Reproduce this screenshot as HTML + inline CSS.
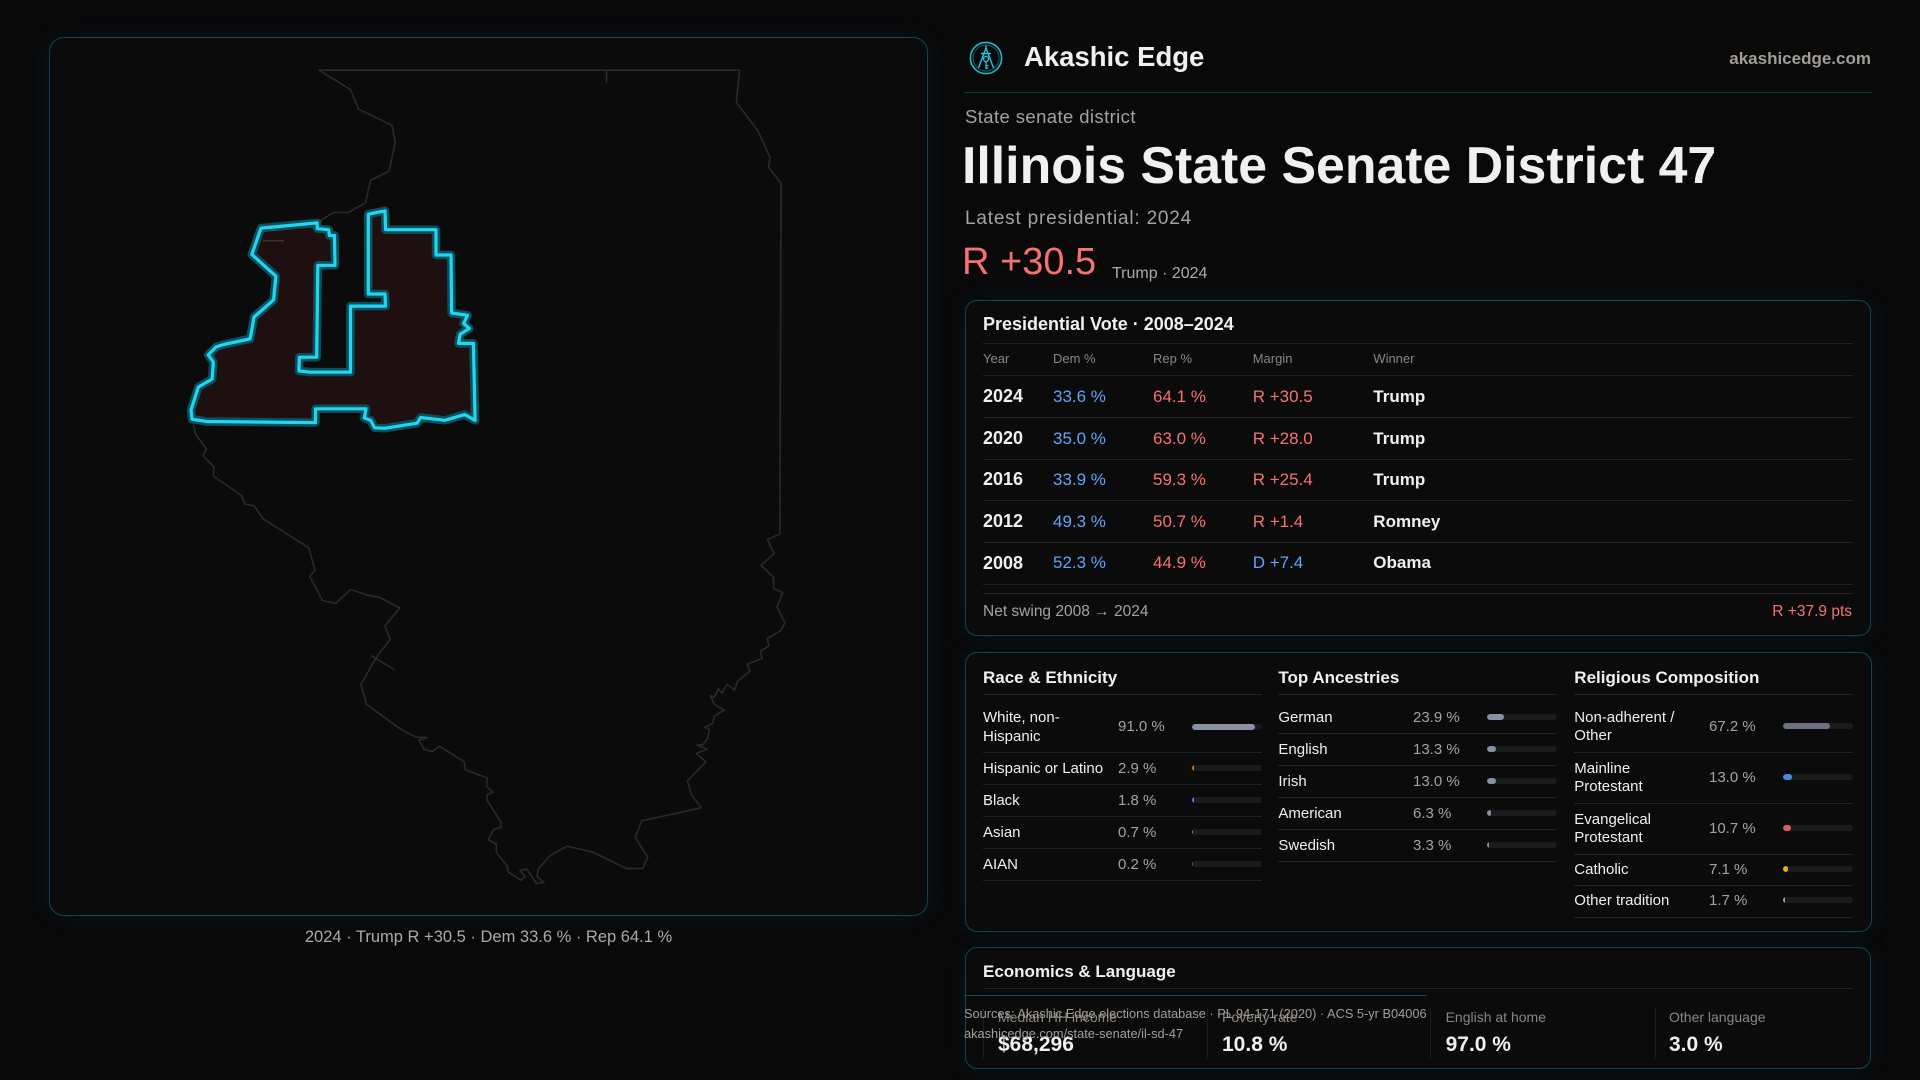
<!DOCTYPE html>
<html>
<head>
<meta charset="utf-8">
<style>
  html,body{margin:0;padding:0;}
  body{width:1920px;height:1080px;background:#09090a;position:relative;overflow:hidden;font-family:"Liberation Sans",sans-serif;}
  .t{position:absolute;white-space:nowrap;line-height:1;}
  .card{position:absolute;box-sizing:border-box;border:1px solid #0e4752;background:#0b0b0c;box-shadow:0 0 22px rgba(14,90,105,0.16);}
  .hl{position:absolute;height:1px;background:#222325;}
  .vl{position:absolute;width:1px;background:#1d1d1f;}
  .w{color:#f2f0ee;}
  .g{color:#a8a29e;}
  .b{font-weight:bold;}
  .blue{color:#60a5fa;}
  .red{color:#f87171;}
  .trk{position:absolute;height:6px;width:70px;border-radius:3px;background:#1b1b1d;overflow:hidden;}
  .trk i{position:absolute;left:0;top:0;height:6px;border-radius:3px;display:block;}
</style>
</head>
<body>

<!-- MAP CARD -->
<div class="card" style="left:49px;top:37px;width:879px;height:879px;border-radius:15px;"></div>
<svg style="position:absolute;left:0;top:0;" width="960" height="1080" viewBox="0 0 960 1080">
  <path d="M319,70.2 L739.7,70.2 L736.3,102.3 L758,131 L770.1,157.4 L768.4,166.6 L781,183.3 L779.9,534 L767.3,539.7 L774.1,553.5 L760.9,565.5 L773.5,577 L773.5,588.5 L782.7,592.5 L777,606.9 L785,623 L780.4,631 L767.3,638.4 L769,645.9 L760.4,651 L762.1,658.5 L747.2,664.3 L750,671.1 L737.4,681.5 L734.5,690 L727,684.4 L721.9,693 L718.4,689 L714.4,697 L710.4,695.8 L714.4,704.4 L724.2,710.2 L714.4,716 L712.7,723.4 L704.7,727.4 L709.3,729.1 L708.1,737.7 L703,744.6 L697.2,745.2 L707.6,749.2 L696.1,753.2 L705.9,761.8 L687.5,780.8 L691.5,794.6 L701.3,807.8 L641.6,820.9 L635.2,837.6 L647.8,857.1 L642.7,868.6 L626.6,868.6 L592.7,852 L566.9,846.2 L550.3,855.4 L538.2,869.1 L537.1,876.6 L544,882.4 L536.5,883.5 L526.7,869.1 L519.9,870.3 L525,876.6 L521,880.1 L508.4,872 L506.7,865.2 L496.3,852.5 L496.3,843.9 L488.3,839.9 L493.4,829.5 L500.9,827.3 L500.9,822.1 L487.1,800.3 L487.1,794.6 L492.9,792.3 L486.6,786.5 L487.1,777.9 L465.3,769.9 L464.2,761.8 L439.5,746.3 L432,751.5 L424,749.2 L418.8,740 L426.9,737.7 L415.4,737.1 L400.5,729.1 L366.6,704.4 L360.9,684.4 L377.5,655.6 L390.1,639.6 L385,625.8 L399.9,608 L379.2,597.1 L370.6,596 L350.5,589.6 L335.6,603.4 L322.4,600.5 L309.8,576.4 L315,570.1 L308.6,547.7 L263.3,519 L254.1,505.8 L244.9,504.1 L241.5,495.5 L213.3,476 L213.9,466.8 L203,455.9 L206.5,449 L195.5,434.1 L193.8,426.1 L192,419 L191,410 L198.4,387 L212.2,379 L213.3,361.8 L208.2,354.9 L216.2,346.8 L223.7,344.5 L250.1,338.8 L254.1,317 L273.6,299.8 L275.9,276.2 L251.8,254.4 L261,228.1 L317.2,222.9 L333.3,212.5 L348.2,212.5 L365.4,202.8 L370.6,180.4 L389,171.2 L395.3,142.5 L391.9,125.3 L358.6,109.2 L350.5,89.7 Z" fill="none" stroke="#2a2a2c" stroke-width="1.6" stroke-linejoin="round"/>
  <path d="M606.5,70.2 L606.5,83.4 M371.2,655.6 L394.7,670" stroke="#2a2a2c" stroke-width="1.6" fill="none"/>
  <path d="M261,228.1 L317.2,222.9 L317.2,228.6 L328.7,229.7 L329.3,235.5 L334.5,235.5 L335,265.3 L317.8,265.3 L316.7,357.2 L299.4,357.2 L298.9,370.9 L309.8,372.1 L350.5,372.1 L350.5,306.1 L385.5,306.1 L385,294 L368.3,294 L368.3,214.2 L385,210.8 L385.5,229.7 L436,229.7 L436,255 L451,255 L451.6,313 L467.6,315.3 L463.6,323.4 L469.4,328.5 L460.2,334.2 L458.5,343.4 L473.4,343.4 L475.1,420.3 L464.8,414.6 L444.7,420.3 L420.6,417.5 L417.1,423.2 L384.4,428.3 L374.6,427.8 L370.6,420.3 L364.3,418 L366,408.8 L315.5,408.8 L315.5,422.6 L206.5,421.5 L192.1,419.2 L191,410 L198.4,387 L212.2,379 L213.3,361.8 L208.2,354.9 L216.2,346.8 L223.7,344.5 L250.1,338.8 L254.1,317 L273.6,299.8 L275.9,276.2 L251.8,254.4 Z" fill="#1e0f11" stroke="#0c4f5a" stroke-width="8.5" stroke-linejoin="round"/>
  <path d="M262.7,240.7 L284,240.7" stroke="#3a3434" stroke-width="1.4"/>
  <path d="M261,228.1 L317.2,222.9 L317.2,228.6 L328.7,229.7 L329.3,235.5 L334.5,235.5 L335,265.3 L317.8,265.3 L316.7,357.2 L299.4,357.2 L298.9,370.9 L309.8,372.1 L350.5,372.1 L350.5,306.1 L385.5,306.1 L385,294 L368.3,294 L368.3,214.2 L385,210.8 L385.5,229.7 L436,229.7 L436,255 L451,255 L451.6,313 L467.6,315.3 L463.6,323.4 L469.4,328.5 L460.2,334.2 L458.5,343.4 L473.4,343.4 L475.1,420.3 L464.8,414.6 L444.7,420.3 L420.6,417.5 L417.1,423.2 L384.4,428.3 L374.6,427.8 L370.6,420.3 L364.3,418 L366,408.8 L315.5,408.8 L315.5,422.6 L206.5,421.5 L192.1,419.2 L191,410 L198.4,387 L212.2,379 L213.3,361.8 L208.2,354.9 L216.2,346.8 L223.7,344.5 L250.1,338.8 L254.1,317 L273.6,299.8 L275.9,276.2 L251.8,254.4 Z" fill="none" stroke="#20d6f0" stroke-width="3.2" stroke-linejoin="round"/>
</svg>
<div class="t" style="left:49px;width:879px;text-align:center;top:928.8px;font-size:16.5px;color:#b0a8a2;">2024 · Trump R +30.5 · Dem 33.6 % · Rep 64.1 %</div>

<!-- HEADER -->
<svg style="position:absolute;left:969px;top:41px;" width="34" height="34" viewBox="0 0 34 34">
  <circle cx="17" cy="17" r="15.6" fill="none" stroke="#1fb8cc" stroke-width="1.6"/>
  <circle cx="17" cy="17" r="13" fill="none" stroke="#0f5f6c" stroke-width="1"/>
  <path d="M17 7 L9.5 27 M17 7 L24.5 27 M12 12.5 L22 12.5 M17 9 L17 4.5" stroke="#22c7de" stroke-width="1.4" fill="none"/>
  <circle cx="17" cy="18" r="2.5" fill="none" stroke="#22c7de" stroke-width="1.3"/>
  <path d="M17 20.5 L17 28 M17 24.5 L19.5 24.5 M17 27 L19.5 27" stroke="#22c7de" stroke-width="1.3" fill="none"/>
</svg>
<div class="t w b" style="left:1024px;top:43px;font-size:27.5px;">Akashic Edge</div>
<div class="t b" style="right:49px;top:49.8px;font-size:17px;color:#a39d98;">akashicedge.com</div>
<div style="position:absolute;left:964px;top:92px;width:908px;height:1px;background:#0f3d45;"></div>

<div class="t g" style="left:965px;top:108.1px;font-size:18.5px;letter-spacing:0.4px;">State senate district</div>
<div class="t w b" style="left:962px;top:140px;font-size:51.8px;">Illinois State Senate District 47</div>
<div class="t g" style="left:965px;top:208.9px;font-size:19px;letter-spacing:0.8px;">Latest presidential: 2024</div>
<div class="t red" style="left:962px;top:243px;font-size:38px;">R +30.5</div>
<div class="t" style="left:1112px;top:266.1px;font-size:16px;color:#b0a9a3;">Trump · 2024</div>

<!-- PANEL 1 -->
<div class="card" style="left:965px;top:299.5px;width:906px;height:336.5px;border-radius:12px;"></div>
<div class="t w b" style="left:983px;top:314.9px;font-size:18px;">Presidential Vote · 2008–2024</div>
<div class="hl" style="left:983px;top:343px;width:870px;"></div>
<div class="t" style="left:983px;top:351.8px;font-size:13px;color:#8c8681;">Year</div>
<div class="t" style="left:1053px;top:351.8px;font-size:13px;color:#8c8681;">Dem %</div>
<div class="t" style="left:1153px;top:351.8px;font-size:13px;color:#8c8681;">Rep %</div>
<div class="t" style="left:1252.7px;top:351.8px;font-size:13px;color:#8c8681;">Margin</div>
<div class="t" style="left:1373.3px;top:351.8px;font-size:13px;color:#8c8681;">Winner</div>
<div class="hl" style="left:983px;top:375px;width:870px;"></div>

<div class="t w b" style="left:983px;top:387.1px;font-size:18px;">2024</div>
<div class="t blue" style="left:1053px;top:387.5px;font-size:17px;">33.6 %</div>
<div class="t red" style="left:1153px;top:387.5px;font-size:17px;">64.1 %</div>
<div class="t red" style="left:1252.7px;top:387.5px;font-size:17px;">R +30.5</div>
<div class="t w b" style="left:1373.3px;top:387.5px;font-size:17px;">Trump</div>
<div class="hl" style="left:983px;top:417px;width:870px;"></div>

<div class="t w b" style="left:983px;top:429.1px;font-size:18px;">2020</div>
<div class="t blue" style="left:1053px;top:429.5px;font-size:17px;">35.0 %</div>
<div class="t red" style="left:1153px;top:429.5px;font-size:17px;">63.0 %</div>
<div class="t red" style="left:1252.7px;top:429.5px;font-size:17px;">R +28.0</div>
<div class="t w b" style="left:1373.3px;top:429.5px;font-size:17px;">Trump</div>
<div class="hl" style="left:983px;top:459px;width:870px;"></div>

<div class="t w b" style="left:983px;top:470.1px;font-size:18px;">2016</div>
<div class="t blue" style="left:1053px;top:470.5px;font-size:17px;">33.9 %</div>
<div class="t red" style="left:1153px;top:470.5px;font-size:17px;">59.3 %</div>
<div class="t red" style="left:1252.7px;top:470.5px;font-size:17px;">R +25.4</div>
<div class="t w b" style="left:1373.3px;top:470.5px;font-size:17px;">Trump</div>
<div class="hl" style="left:983px;top:500px;width:870px;"></div>

<div class="t w b" style="left:983px;top:512.1px;font-size:18px;">2012</div>
<div class="t blue" style="left:1053px;top:512.5px;font-size:17px;">49.3 %</div>
<div class="t red" style="left:1153px;top:512.5px;font-size:17px;">50.7 %</div>
<div class="t red" style="left:1252.7px;top:512.5px;font-size:17px;">R +1.4</div>
<div class="t w b" style="left:1373.3px;top:512.5px;font-size:17px;">Romney</div>
<div class="hl" style="left:983px;top:542px;width:870px;"></div>

<div class="t w b" style="left:983px;top:553.7px;font-size:18px;">2008</div>
<div class="t blue" style="left:1053px;top:554.1px;font-size:17px;">52.3 %</div>
<div class="t red" style="left:1153px;top:554.1px;font-size:17px;">44.9 %</div>
<div class="t blue" style="left:1252.7px;top:554.1px;font-size:17px;">D +7.4</div>
<div class="t w b" style="left:1373.3px;top:554.1px;font-size:17px;">Obama</div>
<div class="hl" style="left:983px;top:584px;width:870px;"></div>
<div class="hl" style="left:983px;top:593px;width:870px;"></div>

<div class="t g" style="left:983px;top:604.1px;font-size:15.5px;">Net swing 2008 → 2024</div>
<div class="t red" style="right:68px;top:604.1px;font-size:15.5px;">R +37.9 pts</div>

<!-- PANEL 2 -->
<div class="card" style="left:965px;top:651.7px;width:906.7px;height:280.6px;border-radius:12px;"></div>
<div class="t w b" style="left:983px;top:668.5px;font-size:17px;">Race &amp; Ethnicity</div>
<div class="t w b" style="left:1278.4px;top:668.5px;font-size:17px;">Top Ancestries</div>
<div class="t w b" style="left:1574.3px;top:668.5px;font-size:17px;">Religious Composition</div>
<div class="hl" style="left:983px;top:694px;width:279px;"></div>
<div class="hl" style="left:1278.4px;top:694px;width:279px;"></div>
<div class="hl" style="left:1574.3px;top:694px;width:278.4px;"></div>

<!-- race -->
<div class="t w" style="left:983px;top:709.5px;font-size:15px;">White, non-</div>
<div class="t w" style="left:983px;top:728.5px;font-size:15px;">Hispanic</div>
<div class="t g" style="left:1118px;top:718.8px;font-size:15px;">91.0 %</div>
<div class="trk" style="left:1191.8px;top:723.7px;"><i style="width:63.7px;background:#8791a1;"></i></div>
<div class="hl" style="left:983px;top:752px;width:279px;"></div>

<div class="t w" style="left:983px;top:760.5px;font-size:15px;">Hispanic or Latino</div>
<div class="t g" style="left:1118px;top:760.5px;font-size:15px;">2.9 %</div>
<div class="trk" style="left:1191.8px;top:764.7px;"><i style="width:2.2px;border-radius:1px;background:#d97706;"></i></div>
<div class="hl" style="left:983px;top:784px;width:279px;"></div>

<div class="t w" style="left:983px;top:792.5px;font-size:15px;">Black</div>
<div class="t g" style="left:1118px;top:792.5px;font-size:15px;">1.8 %</div>
<div class="trk" style="left:1191.8px;top:796.7px;"><i style="width:2px;border-radius:1px;background:#8b5cf6;"></i></div>
<div class="hl" style="left:983px;top:816px;width:279px;"></div>

<div class="t w" style="left:983px;top:824.5px;font-size:15px;">Asian</div>
<div class="t g" style="left:1118px;top:824.5px;font-size:15px;">0.7 %</div>
<div class="trk" style="left:1191.8px;top:828.7px;"><i style="width:1.6px;border-radius:1px;background:#10b981;"></i></div>
<div class="hl" style="left:983px;top:848px;width:279px;"></div>

<div class="t w" style="left:983px;top:856.5px;font-size:15px;">AIAN</div>
<div class="t g" style="left:1118px;top:856.5px;font-size:15px;">0.2 %</div>
<div class="trk" style="left:1191.8px;top:860.7px;"><i style="width:1.4px;border-radius:1px;background:#c2410c;"></i></div>
<div class="hl" style="left:983px;top:880px;width:279px;"></div>

<!-- ancestries -->
<div class="t w" style="left:1278.4px;top:709.5px;font-size:15px;">German</div>
<div class="t g" style="left:1413px;top:709.5px;font-size:15px;">23.9 %</div>
<div class="trk" style="left:1487px;top:713.7px;"><i style="width:16.7px;background:#8791a1;"></i></div>
<div class="hl" style="left:1278.4px;top:733px;width:279px;"></div>

<div class="t w" style="left:1278.4px;top:741.5px;font-size:15px;">English</div>
<div class="t g" style="left:1413px;top:741.5px;font-size:15px;">13.3 %</div>
<div class="trk" style="left:1487px;top:745.7px;"><i style="width:9.3px;background:#8791a1;"></i></div>
<div class="hl" style="left:1278.4px;top:765px;width:279px;"></div>

<div class="t w" style="left:1278.4px;top:773.5px;font-size:15px;">Irish</div>
<div class="t g" style="left:1413px;top:773.5px;font-size:15px;">13.0 %</div>
<div class="trk" style="left:1487px;top:777.7px;"><i style="width:9.1px;background:#8791a1;"></i></div>
<div class="hl" style="left:1278.4px;top:797px;width:279px;"></div>

<div class="t w" style="left:1278.4px;top:805.5px;font-size:15px;">American</div>
<div class="t g" style="left:1413px;top:805.5px;font-size:15px;">6.3 %</div>
<div class="trk" style="left:1487px;top:809.7px;"><i style="width:4.4px;background:#8791a1;"></i></div>
<div class="hl" style="left:1278.4px;top:829px;width:279px;"></div>

<div class="t w" style="left:1278.4px;top:837.5px;font-size:15px;">Swedish</div>
<div class="t g" style="left:1413px;top:837.5px;font-size:15px;">3.3 %</div>
<div class="trk" style="left:1487px;top:841.7px;"><i style="width:2.3px;border-radius:1px;background:#8791a1;"></i></div>
<div class="hl" style="left:1278.4px;top:861px;width:279px;"></div>

<!-- religion -->
<div class="t w" style="left:1574.3px;top:709.5px;font-size:15px;">Non-adherent /</div>
<div class="t w" style="left:1574.3px;top:727.8px;font-size:15px;">Other</div>
<div class="t g" style="left:1709px;top:718.8px;font-size:15px;">67.2 %</div>
<div class="trk" style="left:1783.3px;top:723px;"><i style="width:47px;background:#6b7280;"></i></div>
<div class="hl" style="left:1574.3px;top:752px;width:278.4px;"></div>

<div class="t w" style="left:1574.3px;top:760.5px;font-size:15px;">Mainline</div>
<div class="t w" style="left:1574.3px;top:779.1px;font-size:15px;">Protestant</div>
<div class="t g" style="left:1709px;top:770.1px;font-size:15px;">13.0 %</div>
<div class="trk" style="left:1783.3px;top:774.3px;"><i style="width:9.1px;background:#4a8be0;"></i></div>
<div class="hl" style="left:1574.3px;top:803px;width:278.4px;"></div>

<div class="t w" style="left:1574.3px;top:811.5px;font-size:15px;">Evangelical</div>
<div class="t w" style="left:1574.3px;top:830.1px;font-size:15px;">Protestant</div>
<div class="t g" style="left:1709px;top:821.1px;font-size:15px;">10.7 %</div>
<div class="trk" style="left:1783.3px;top:825.3px;"><i style="width:7.5px;background:#e05c5c;"></i></div>
<div class="hl" style="left:1574.3px;top:854px;width:278.4px;"></div>

<div class="t w" style="left:1574.3px;top:861.5px;font-size:15px;">Catholic</div>
<div class="t g" style="left:1709px;top:861.5px;font-size:15px;">7.1 %</div>
<div class="trk" style="left:1783.3px;top:865.7px;"><i style="width:5px;background:#eab308;"></i></div>
<div class="hl" style="left:1574.3px;top:885px;width:278.4px;"></div>

<div class="t w" style="left:1574.3px;top:893.1px;font-size:15px;">Other tradition</div>
<div class="t g" style="left:1709px;top:893.1px;font-size:15px;">1.7 %</div>
<div class="trk" style="left:1783.3px;top:897.3px;"><i style="width:1.6px;border-radius:1px;background:#9ca3af;"></i></div>
<div class="hl" style="left:1574.3px;top:917px;width:278.4px;"></div>

<!-- PANEL 3 -->
<div class="card" style="left:965px;top:947.3px;width:906px;height:121.7px;border-radius:12px;"></div>
<div class="t w b" style="left:983px;top:962.8px;font-size:17px;">Economics &amp; Language</div>
<div class="hl" style="left:983px;top:988px;width:870px;"></div>
<div style="position:absolute;left:964px;top:995px;width:463px;height:1px;background:#0f4b55;"></div>

<div class="vl" style="left:983px;top:1008px;height:50px;"></div>
<div class="vl" style="left:1206.8px;top:1008px;height:50px;"></div>
<div class="vl" style="left:1430.3px;top:1008px;height:50px;"></div>
<div class="vl" style="left:1655px;top:1008px;height:50px;"></div>

<div class="t" style="left:998px;top:1010px;font-size:14px;color:#8c8681;">Median HH income</div>
<div class="t" style="left:1222px;top:1010px;font-size:14px;color:#8c8681;">Poverty rate</div>
<div class="t" style="left:1445.6px;top:1010px;font-size:14px;color:#8c8681;">English at home</div>
<div class="t" style="left:1669px;top:1010px;font-size:14px;color:#8c8681;">Other language</div>

<div class="t w b" style="left:998px;top:1033.9px;font-size:21px;">$68,296</div>
<div class="t w b" style="left:1222px;top:1033.9px;font-size:21px;">10.8 %</div>
<div class="t w b" style="left:1445.6px;top:1033.9px;font-size:21px;">97.0 %</div>
<div class="t w b" style="left:1669px;top:1033.9px;font-size:21px;">3.0 %</div>

<div class="t" style="left:964px;top:1008px;font-size:12.8px;color:#a39d98;">Sources: Akashic Edge elections database · PL 94-171 (2020) · ACS 5-yr B04006</div>
<div class="t" style="left:964px;top:1028.3px;font-size:12.8px;color:#a39d98;">akashicedge.com/state-senate/il-sd-47</div>

</body>
</html>
